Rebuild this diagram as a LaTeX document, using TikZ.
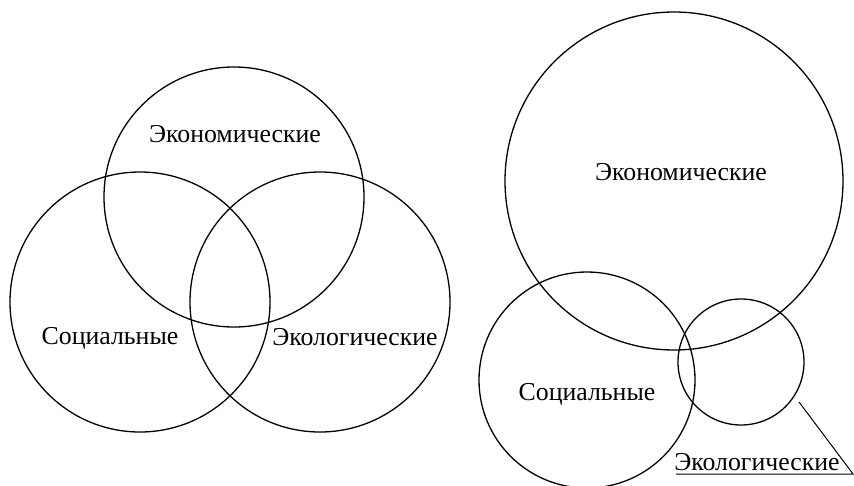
\documentclass[tikz,border=0pt]{standalone}
\usepackage{fontspec}
\setmainfont{Liberation Serif}
\usepackage{tikz}

\begin{document}
\begin{tikzpicture}[x=1pt,y=-1pt,line width=1.3pt,
		ring/.style={draw,circle,inner sep=0pt},
		lbl/.style={anchor=base,font=\fontsize{25.8}{26}\selectfont}]
			\useasboundingbox (0,0) rectangle (854,485);
			% left diagram
			\node [ring,minimum size=260pt] (econA) at (234,197) {};
			\node [ring,minimum size=260pt] (socA) at (140,302) {};
			\node [ring,minimum size=260pt] (ecoA) at (320,302) {};
			\node [lbl] (econAtxt) at (235,142) {Экономические};
			\node [lbl] (socAtxt) at (110,344) {Социальные};
			\node [lbl] (ecoAtxt) at (355,345) {Экологические};
			% right diagram
			\node [ring,minimum size=338pt] (econB) at (674,181) {};
			\node [ring,minimum size=216pt] (socB) at (587,380) {};
			\node [ring,minimum size=126pt] (ecoB) at (741,362) {};
			\node [lbl] (econBtxt) at (681,180) {Экономические};
			\node [lbl] (socBtxt) at (587,400) {Социальные};
			\node [lbl] (ecoBtxt) at (757,470) {Экологические};
			\coordinate (ulA) at (676,474);
			\coordinate (ulB) at (853,474);
			\coordinate (tick) at (799,402);
			\draw [line width=1pt] (ulA)--(ulB)--(tick);
		\end{tikzpicture}
\end{document}
